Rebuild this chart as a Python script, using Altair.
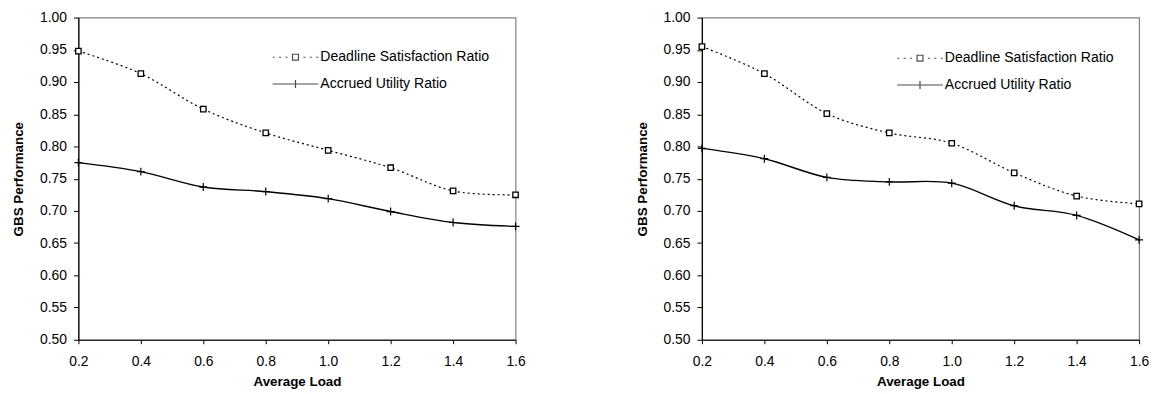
import altair as alt
import pandas as pd

# ---- data ----
loads = [0.2, 0.4, 0.6, 0.8, 1.0, 1.2, 1.4, 1.6]

left_deadline = [0.948, 0.913, 0.858, 0.821, 0.794, 0.767, 0.731, 0.725]
left_accrued = [0.775, 0.761, 0.737, 0.730, 0.719, 0.699, 0.682, 0.676]

right_deadline = [0.955, 0.913, 0.851, 0.821, 0.805, 0.759, 0.723, 0.711]
right_accrued = [0.797, 0.781, 0.752, 0.745, 0.743, 0.708, 0.693, 0.655]

series_names = ["Deadline Satisfaction Ratio", "Accrued Utility Ratio"]
y_ticks = [0.50, 0.55, 0.60, 0.65, 0.70, 0.75, 0.80, 0.85, 0.90, 0.95, 1.00]
x_ticks = [0.2, 0.4, 0.6, 0.8, 1.0, 1.2, 1.4, 1.6]

FONT = "Liberation Sans"

# legend symbols (custom paths: dotted line + square, solid line + tick)
LEG_DEADLINE = ("M-2.3,0H-2.1M-1.65,0H-1.45M-1,0H-0.8"
                "M-0.3,-0.3H0.3V0.3H-0.3Z"
                "M0.8,0H1M1.45,0H1.65M2.1,0H2.3")
LEG_ACCRUED = "M-2.3,0H2.3M0,-0.4V0.4"
PLUS = "M-1,0H1M0,-1V1"


def make_df(deadline, accrued):
    rows = []
    for x, v in zip(loads, deadline):
        rows.append({"load": x, "value": v, "series": series_names[0]})
    for x, v in zip(loads, accrued):
        rows.append({"load": x, "value": v, "series": series_names[1]})
    return pd.DataFrame(rows)


def panel(deadline, accrued, leg_x, leg_y):
    df = make_df(deadline, accrued)
    base = alt.Chart(df)
    xenc = alt.X("load:Q",
                 scale=alt.Scale(domain=[0.2, 1.6], nice=False, zero=False),
                 axis=alt.Axis(values=x_ticks, format=".1f", title="Average Load",
                               tickSize=4, labelPadding=11, titlePadding=6,
                               labelFlush=False, labelOverlap=False))
    yenc = alt.Y("value:Q",
                 scale=alt.Scale(domain=[0.5, 1.0], nice=False, zero=False),
                 axis=alt.Axis(values=y_ticks, format=".2f", title="GBS Performance",
                               tickSize=5, labelPadding=7, titlePadding=14,
                               labelFlush=False, labelOverlap=False))

    dl_line = base.transform_filter(
        alt.datum.series == series_names[0]
    ).mark_line(color="black", strokeWidth=1.2, strokeDash=[2, 3],
                interpolate="cardinal").encode(x=xenc, y=yenc)
    au_line = base.transform_filter(
        alt.datum.series == series_names[1]
    ).mark_line(color="black", strokeWidth=1.4,
                interpolate="cardinal").encode(x=xenc, y=yenc)
    dl_pts = base.transform_filter(
        alt.datum.series == series_names[0]
    ).mark_point(shape="square", size=30, filled=True, fill="white",
                 stroke="black", strokeWidth=1.3, opacity=1).encode(x=xenc, y=yenc)
    au_pts = base.transform_filter(
        alt.datum.series == series_names[1]
    ).mark_point(shape=PLUS, size=64, filled=False,
                 stroke="black", strokeWidth=1.2, opacity=1).encode(x=xenc, y=yenc)

    legend_layer = base.transform_filter("false").mark_point(
        filled=False, stroke="black", strokeWidth=1.2
    ).encode(
        x=xenc, y=yenc,
        shape=alt.Shape("series:N",
                        scale=alt.Scale(domain=series_names,
                                        range=[LEG_DEADLINE, LEG_ACCRUED]),
                        legend=alt.Legend(orient="none", legendX=leg_x, legendY=leg_y,
                                          title=None, symbolSize=400,
                                          symbolStrokeColor="black",
                                          symbolFillColor="white",
                                          symbolStrokeWidth=1.2,
                                          labelOffset=14, rowPadding=8,
                                          labelLimit=400,
                                          labelFont=FONT, labelFontSize=14.2,
                                          labelColor="black", padding=0))
    )
    return alt.layer(dl_line, au_line, dl_pts, au_pts, legend_layer).properties(
        width=441, height=325)


left = panel(left_deadline, left_accrued, 208, 29)
right = panel(right_deadline, right_accrued, 209, 30)

chart = alt.hconcat(left, right, spacing=109).resolve_scale(
    shape="independent", x="independent", y="independent"
).resolve_legend(shape="independent").configure_view(
    stroke="#808080", strokeWidth=1.2
).configure_axis(
    grid=False, domainColor="black", tickColor="black", domainWidth=1.2,
    labelFont=FONT, labelFontSize=14, labelColor="black",
    titleFont=FONT, titleFontSize=13.5, titleFontWeight="bold", titleColor="black"
).properties(
    padding={"left": 3, "top": 0, "right": 0, "bottom": 0},
    background="white"
)

chart.save("out.html", embed_options={"renderer": "svg", "actions": False})
